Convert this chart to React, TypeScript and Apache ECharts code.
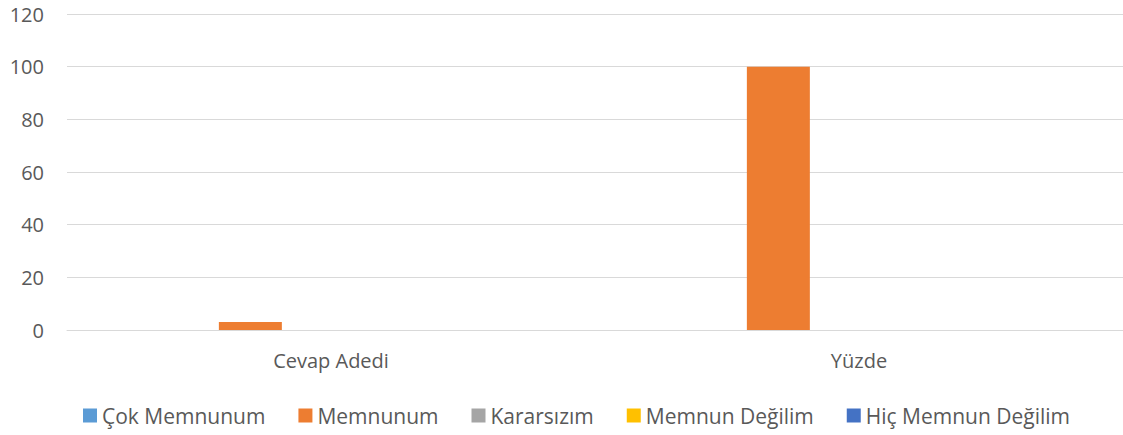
import React, { useEffect, useRef } from "react";
import * as echarts from "echarts";

const categories = ["Cevap Adedi", "Yüzde"];
const seriesNames = ["Çok Memnunum", "Memnunum", "Kararsızım", "Memnun Değilim", "Hiç Memnun Değilim"];
const cokMemnunum = [0, 0];
const memnunum = [3, 100];
const kararsizim = [0, 0];
const memnunDegilim = [0, 0];
const hicMemnunDegilim = [0, 0];
const seriesColors = ["#5B9BD5", "#ED7D31", "#A5A5A5", "#FFC000", "#4472C4"];
const yTicks = { min: 0, max: 120, interval: 20 };

const FONT = "'Open Sans', sans-serif";

export default function App() {
  const ref = useRef<HTMLDivElement>(null);
  useEffect(() => {
    document.body.style.margin = "0";
    if (!ref.current) return;
    const chart = echarts.init(ref.current, undefined, { renderer: "svg" });
    const values = [cokMemnunum, memnunum, kararsizim, memnunDegilim, hicMemnunDegilim];
    chart.setOption({
      animation: false,
      textStyle: { fontFamily: FONT },
      grid: { left: 67, right: 0, top: 14, bottom: 105, containLabel: false },
      legend: {
        top: 405,
        left: 83,
        itemWidth: 14,
        itemHeight: 14,
        itemGap: 33,
        icon: "rect",
        padding: 0,
        textStyle: { color: "#595959", fontSize: 21, fontFamily: FONT },
        data: seriesNames,
      },
      xAxis: {
        type: "category",
        data: categories,
        axisLine: { lineStyle: { color: "#D9D9D9", width: 1 } },
        axisTick: { show: false },
        axisLabel: { color: "#595959", fontSize: 20, margin: 20, fontFamily: FONT },
      },
      yAxis: {
        type: "value",
        min: yTicks.min,
        max: yTicks.max,
        interval: yTicks.interval,
        axisLine: { show: false },
        axisTick: { show: false },
        splitLine: { lineStyle: { color: "#D9D9D9", width: 1 } },
        axisLabel: { color: "#595959", fontSize: 20, margin: 23, fontFamily: FONT },
      },
      series: seriesNames.map((name, i) => ({
        name,
        type: "bar",
        data: values[i],
        barWidth: 63,
        barGap: "28%",
        itemStyle: { color: seriesColors[i] },
      })),
    });
    return () => chart.dispose();
  }, []);
  return <div ref={ref} style={{ width: 1123, height: 435 }} />;
}
